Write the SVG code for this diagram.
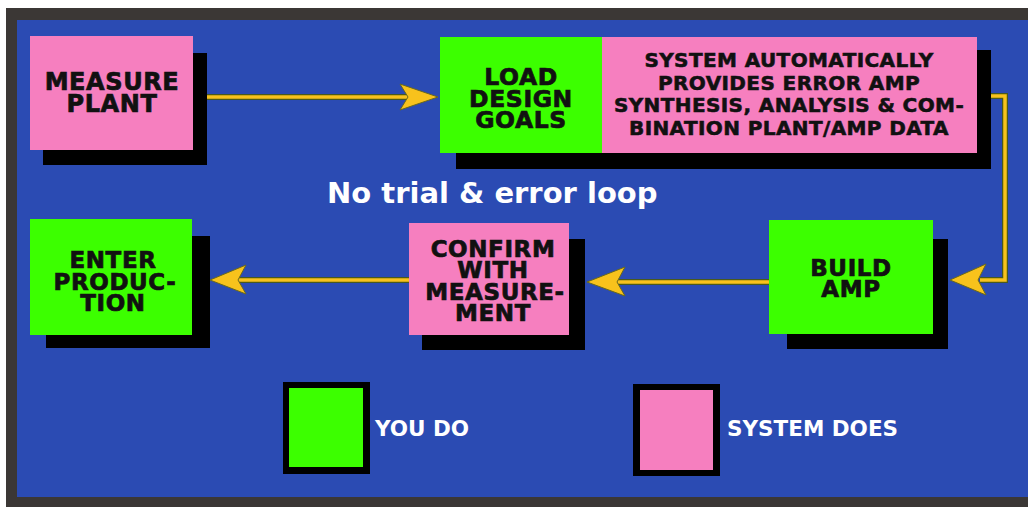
<svg xmlns="http://www.w3.org/2000/svg" width="1028" height="507" viewBox="0 0 1028 507">
<defs>
<style>
.frame{fill:#3b3735}
.bg{fill:#2b4bb3}
.pink{fill:#f67fbf}
.green{fill:#3cff00}
.shadow{fill:#000}
.lbl{font-family:"DejaVu Sans","Liberation Sans",sans-serif;font-weight:bold;fill:#111;stroke:#111;stroke-width:0.7;text-anchor:middle;letter-spacing:0.6px}
.wt{font-family:"DejaVu Sans","Liberation Sans",sans-serif;font-weight:bold;fill:#fff}
.edge{fill:none;stroke:#4a5a1c;stroke-width:6;stroke-linejoin:miter}
.line{fill:none;stroke:#f8c21c;stroke-width:3.5;stroke-linejoin:miter}
.head{fill:#f8c21c;stroke:#6a6a1c;stroke-width:1}
</style>
</defs>
<rect x="0" y="0" width="1028" height="507" fill="#ffffff"/>
<rect class="frame" x="6" y="8" width="1022" height="499"/>
<rect class="bg" x="17" y="20" width="1011" height="477"/>

<g id="connectors">
<path class="edge" d="M207 97 H410"/>
<path class="line" d="M207 97 H410"/>
<polygon class="head" points="438,97 400,84 408,97 400,110"/>
<path class="edge" d="M990 96 H1005 V280 H980"/>
<path class="line" d="M990 96 H1005 V280 H980"/>
<polygon class="head" points="950,280 986,264 978,280 986,295"/>
<path class="edge" d="M769 282 H615"/>
<path class="line" d="M769 282 H615"/>
<polygon class="head" points="587,282 625,267 617,282 625,296"/>
<path class="edge" d="M409 280 H238"/>
<path class="line" d="M409 280 H238"/>
<polygon class="head" points="210,280 246,265 238,280 246,294"/>
</g>

<g id="measure-plant">
<rect class="shadow" x="43" y="53" width="164" height="112"/>
<rect class="pink" x="30" y="36" width="163" height="114"/>
<text class="lbl" font-size="24"><tspan x="112" y="90">MEASURE</tspan><tspan x="112" y="112">PLANT</tspan></text>
</g>

<g id="load-design-goals">
<rect class="shadow" x="456" y="50" width="535" height="119"/>
<rect class="green" x="440" y="37" width="162" height="116"/>
<rect class="pink" x="602" y="37" width="375" height="116"/>
<text class="lbl" font-size="23.5"><tspan x="521" y="85">LOAD</tspan><tspan x="521" y="106.5">DESIGN</tspan><tspan x="521" y="128">GOALS</tspan></text>
<text class="lbl" font-size="20" style="stroke-width:0.6;letter-spacing:0.4px"><tspan x="789" y="67">SYSTEM AUTOMATICALLY</tspan><tspan x="789" y="89.7">PROVIDES ERROR AMP</tspan><tspan x="789" y="112.3">SYNTHESIS, ANALYSIS &amp; COM-</tspan><tspan x="789" y="135">BINATION PLANT/AMP DATA</tspan></text>
</g>

<text class="wt" font-size="29" x="327" y="203">No trial &amp; error loop</text>

<g id="build-amp">
<rect class="shadow" x="787" y="239" width="161" height="110"/>
<rect class="green" x="769" y="220" width="164" height="114"/>
<text class="lbl" font-size="23"><tspan x="851" y="276">BUILD</tspan><tspan x="851" y="297">AMP</tspan></text>
</g>

<g id="confirm">
<rect class="shadow" x="422" y="239" width="163" height="111"/>
<rect class="pink" x="409" y="223" width="160" height="112"/>
<text class="lbl" font-size="23"><tspan x="493" y="257">CONFIRM</tspan><tspan x="493" y="278">WITH</tspan><tspan x="495" y="300">MEASURE-</tspan><tspan x="493" y="321">MENT</tspan></text>
</g>

<g id="enter-production">
<rect class="shadow" x="46" y="236" width="164" height="112"/>
<rect class="green" x="30" y="219" width="162" height="116"/>
<text class="lbl" font-size="23"><tspan x="113" y="268">ENTER</tspan><tspan x="115" y="289.5">PRODUC-</tspan><tspan x="113" y="311">TION</tspan></text>
</g>

<g id="legend-you">
<rect class="shadow" x="283" y="382" width="87" height="92"/>
<rect class="green" x="289" y="388" width="74" height="79"/>
<text class="wt" font-size="21.5" x="375" y="436">YOU DO</text>
</g>
<g id="legend-system">
<rect class="shadow" x="633" y="384" width="87" height="92"/>
<rect class="pink" x="640" y="390" width="73" height="80"/>
<text class="wt" font-size="21.5" x="727" y="436">SYSTEM DOES</text>
</g>
</svg>
